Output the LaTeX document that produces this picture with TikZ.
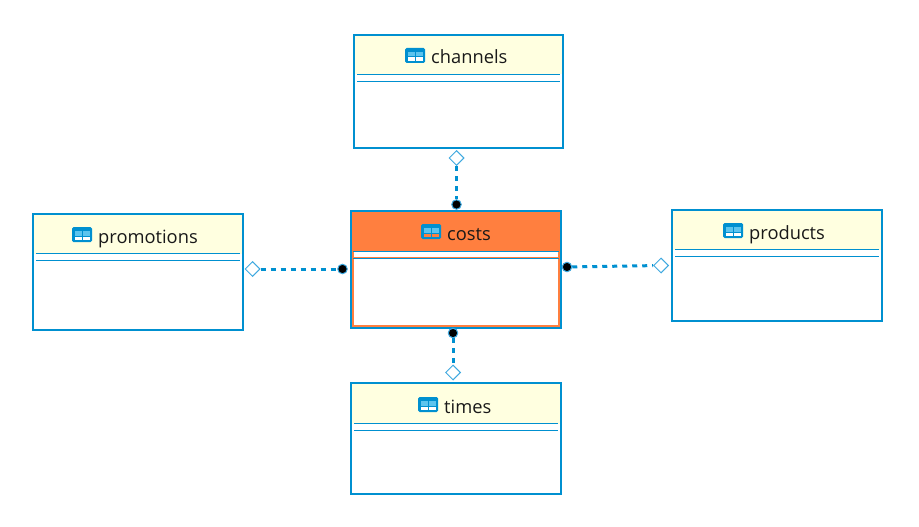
\documentclass[tikz,border=0pt]{standalone}
\usepackage{fontspec}
\setmainfont{Open Sans}
\usetikzlibrary{shapes.geometric}
\definecolor{umlblue}{HTML}{0090D0}
\definecolor{umllight}{HTML}{3FA9E0}
\definecolor{umlpane}{HTML}{5CC4EE}
\definecolor{umlyellow}{HTML}{FFFFE0}
\definecolor{umlorange}{HTML}{FF7F3F}
\tikzset{
  x=1pt,y=-1pt,
  umlbox/.style={draw=umlblue,line width=2pt,rectangle,inner sep=0pt,outer sep=0pt,anchor=north west},
  umllabel/.style={anchor=base west,inner sep=0pt,font=\fontsize{18.3pt}{20pt}\selectfont,text=black!90},
  sepline/.style={draw=umlblue,line width=1pt},
  link/.style={draw=umlblue,line width=3pt,dash pattern=on 5pt off 5pt},
  aggr/.style={diamond,draw=umllight,line width=1pt,fill=white,minimum width=15pt,minimum height=15pt,inner sep=0pt,aspect=1},
  enddot/.style={circle,fill=black,draw=umllight,line width=1pt,minimum size=9.5pt,inner sep=0pt},
}
% icon: #1 left x, #2 top y, #3 lower-pane colour
\newcommand{\tableicon}[3]{%
  \fill[umlblue,rounded corners=1.5pt] (#1,#2) rectangle (#1+20,#2+15);
  \fill[umlpane] (#1+2.5,#2+4) rectangle (#1+17.5,#2+8.5);
  \fill[#3] (#1+2.5,#2+9.5) rectangle (#1+9.5,#2+13);
  \fill[#3] (#1+10.5,#2+9.5) rectangle (#1+17.5,#2+13);
  \fill[umlblue] (#1+9.5,#2+4) rectangle (#1+10.5,#2+8.5);
}
% plain class: #1 name, #2 x0, #3 y0, #4 x1, #5 y1, #6 line1 y, #7 text, #8 icon x, #9 text x
\newcommand{\umlclass}[9]{%
  \fill[white] (#2,#3) rectangle (#4,#5);
  \fill[umlyellow] (#2,#3) rectangle (#4,#6);
  \node[umlbox,minimum width=#4pt-#2pt,minimum height=#5pt-#3pt] (#1) at (#2,#3) {};
  \draw[sepline] (#2+3,#6) -- (#4-3,#6);
  \draw[sepline] (#2+3,#6+7) -- (#4-3,#6+7);
  \tableicon{#8}{#6-26.5}{white}
  \node[umllabel] (#1-label) at (#9,#6-10.5) {#7};
}
\begin{document}
\begin{tikzpicture}
\useasboundingbox (0,0) rectangle (919,527);
\fill[white] (0,0) rectangle (919,527);
\umlclass{channels}{354}{35}{563}{148}{74.5}{channels}{405}{431}
\umlclass{promotions}{33}{214}{243}{330}{253.5}{promotions}{72}{98}
\umlclass{products}{672}{210}{882}{321}{249.5}{products}{723}{749}
\umlclass{times}{351}{383}{561}{494}{423.5}{times}{418}{444}
% costs (selected)
\fill[white] (351,211) rectangle (561,328);
\fill[umlorange] (351,211) rectangle (561,251.5);
\draw[umlorange,line width=2.5pt] (353,252) -- (353,326) -- (559,326) -- (559,252);
\draw[umlorange,line width=1pt] (353,257) -- (559,257);
\node[umlbox,minimum width=210pt,minimum height=117pt] (costs) at (351,211) {};
\draw[sepline] (353,251.5) -- (559,251.5);
\draw[sepline] (353,258) -- (559,258);
\tableicon{421}{224}{umlorange}
\node[umllabel] (costs-label) at (447,240) {costs};
% connector ends
\node[aggr] (d1) at (456.5,158) {};
\node[aggr] (d2) at (252.5,269) {};
\node[aggr] (d3) at (661,265.5) {};
\node[aggr] (d4) at (453,372.5) {};
\node[enddot] (e1) at (456.5,204.5) {};
\node[enddot] (e2) at (342.5,269) {};
\node[enddot] (e3) at (567,267) {};
\node[enddot] (e4) at (453,333) {};
\draw[link] (d1) -- (e1);
\draw[link] (d2) -- (e2);
\draw[link] (e3) -- (d3);
\draw[link] (e4) -- (d4);
\end{tikzpicture}
\end{document}
